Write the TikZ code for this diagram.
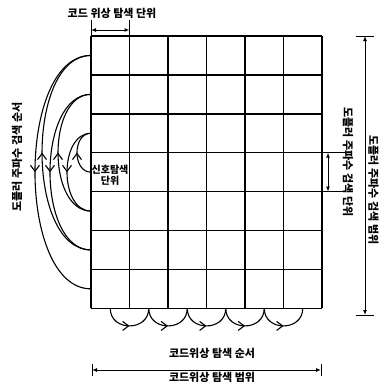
\documentclass[tikz,border=0pt]{standalone}
\usepackage{fontspec}
\newfontfamily\kr{Noto Sans CJK KR}[WordSpace=3.5]
\newfontfamily\krn{Noto Sans CJK KR}
\usetikzlibrary{arrows.meta,decorations.markings}
\begin{document}
\begin{tikzpicture}[x=1pt,y=-1pt,
  gridline/.style={line width=1.5pt},
  arcline/.style={line width=1.1pt},
  midarrow/.style={postaction={decorate},decoration={markings,mark=at position 0.5 with {\arrow{Straight Barb[length=6pt,width=9pt,line width=1.1pt]}}}},
  dim/.style={line width=1pt,{Latex[length=5pt,width=4pt]}-{Latex[length=5pt,width=4pt]}},
  ext/.style={line width=1pt},
  lab/.style={font=\kr\bfseries\fontsize{11}{13}\selectfont, inner sep=0pt},
  cell/.style={font=\krn\bfseries\fontsize{10}{12}\selectfont, inner sep=0pt}]
\useasboundingbox (0,0) rectangle (379,383);
% grid
\foreach \i in {0,...,6} \draw[gridline] ({91+38.5*\i},36) -- ({91+38.5*\i},308.3);
\foreach \j in {0,...,7} \draw[gridline] (91,{36+38.9*\j}) -- (322,{36+38.9*\j});
\foreach \j in {1,...,7} \coordinate (L\j) at (91,{36+38.9*(\j-0.5)});
\foreach \i in {1,...,6} \coordinate (B\i) at ({91+38.5*(\i-0.5)},308.3);
% left doppler search arcs
\draw[arcline,midarrow] (L4) .. controls +(-18.7,0) and +(-18.7,0) .. (L3);
\draw[arcline,midarrow] (L3) .. controls +(-32,0) and +(-32,0) .. (L5);
\draw[arcline,midarrow] (L5) .. controls +(-44,0) and +(-44,0) .. (L2);
\draw[arcline,midarrow] (L2) .. controls +(-54.7,0) and +(-54.7,0) .. (L6);
\draw[arcline,midarrow] (L6) .. controls +(-65.3,0) and +(-65.3,0) .. (L1);
\draw[arcline,midarrow] (L1) .. controls +(-74.7,0) and +(-74.7,0) .. (L7);
% bottom code phase arcs
\foreach \i [evaluate=\i as \n using int(\i+1)] in {1,...,5}
  \draw[arcline,midarrow] (B\i) .. controls +(0,23.5) and +(0,23.5) .. (B\n);
% top dimension
\coordinate (ta) at (91,20); \coordinate (tb) at (129.5,20);
\coordinate (ta2) at (91,30); \coordinate (tb2) at (129.5,30);
\draw[ext] (91,36) -- (ta); \draw[ext] (129.5,36) -- (tb);
\draw[dim] (ta2) -- (tb2);
\node[lab] (tl) at (112,13) {코드 위상 탐색 단위};
% right inner dimension
\coordinate (ra) at (345,152.7); \coordinate (rb) at (345,191.6);
\coordinate (ra2) at (328,152.7); \coordinate (rb2) at (328,191.6);
\draw[ext] (322,152.7) -- (ra); \draw[ext] (322,191.6) -- (rb);
\draw[dim] (ra2) -- (rb2);
\node[lab,rotate=-90] (rl) at (348,162) {도플러 주파수 검색 단위};
% right outer dimension
\coordinate (oa) at (365,36); \coordinate (ob) at (365,315);
\draw[ext] (356,36) -- (374,36); \draw[ext] (356,315) -- (374,315);
\draw[dim] (oa) -- (ob);
\node[lab,rotate=-90] (ol) at (373.5,190) {도플러 주파수 검색 범위};
% bottom dimension
\coordinate (ba) at (92,370); \coordinate (bb) at (321,370);
\draw[ext] (92,364) -- (92,376); \draw[ext] (321,364) -- (321,376);
\draw[dim] (ba) -- (bb);
\node[lab] (bo) at (212,353) {코드위상 탐색 순서};
\node[lab] (br) at (212,377) {코드위상 탐색 범위};
% left label
\node[lab,rotate=90] (ll) at (17,157) {도플러 주파수 검색 순서};
% cell label
\node[cell,align=center] (cl) at (110,175) {신호탐색\\[-1pt]단위};
\end{tikzpicture}
\end{document}
